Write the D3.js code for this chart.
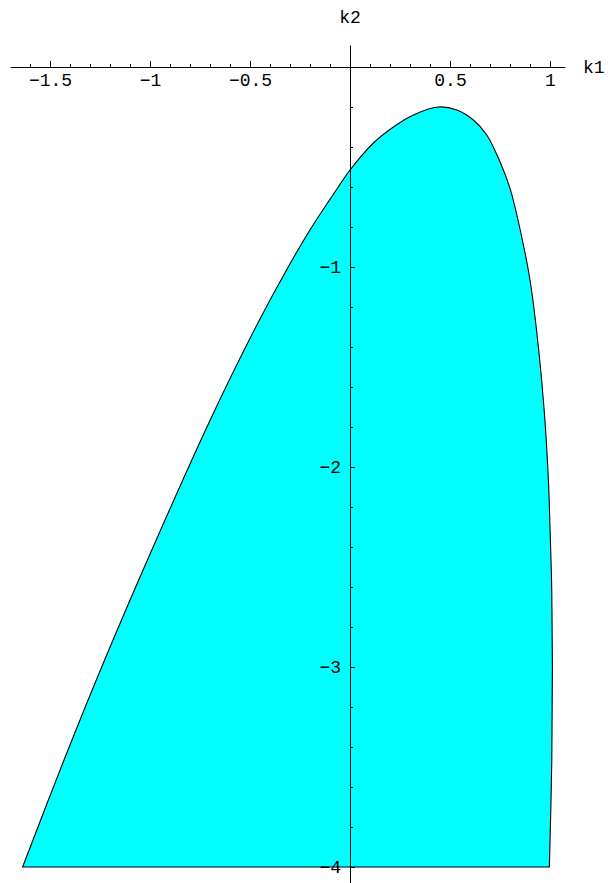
<!DOCTYPE html>
<html>
<head>
<meta charset="utf-8">
<script src="https://cdn.jsdelivr.net/npm/d3@7"></script>
<style>
  body { margin: 0; background: #fff; }
  svg text { font-family: "Liberation Mono", "DejaVu Sans Mono", monospace; }
</style>
</head>
<body>
<script>
// boundary of the shaded region, (k1, k2)
const boundaryK1 = [-1.637, -1.43, -1.227, -0.98, -0.699, -0.471, -0.309, -0.191, -0.05, 0, 0.117, 0.217, 0.317, 0.44, 0.534, 0.617, 0.684, 0.75, 0.80, 0.84, 0.90, 0.942, 0.972, 0.992, 1.0, 1.009, 1.012, 1.009, 0.997];
const boundaryK2 = [-4, -3.465, -2.965, -2.39, -1.765, -1.30, -1.0, -0.80, -0.587, -0.515, -0.38, -0.30, -0.24, -0.20, -0.215, -0.265, -0.34, -0.474, -0.607, -0.765, -1.065, -1.40, -1.73, -2.065, -2.30, -2.63, -3.0, -3.465, -4];

const xMajor = [-1.5, -1, -0.5, 0.5, 1];
const xLabels = ["\u22121.5", "\u22121", "\u22120.5", "0.5", "1"];
const xMinor = [-1.6, -1.4, -1.3, -1.2, -1.1, -0.9, -0.8, -0.7, -0.6, -0.4, -0.3, -0.2, -0.1, 0.1, 0.2, 0.3, 0.4, 0.6, 0.7, 0.8, 0.9];
const yMajor = [-1, -2, -3, -4];
const yLabels = ["\u22121", "\u22122", "\u22123", "\u22124"];
const yMinor = [-0.2, -0.4, -0.6, -0.8, -1.2, -1.4, -1.6, -1.8, -2.2, -2.4, -2.6, -2.8, -3.2, -3.4, -3.6, -3.8];

const W = 608, H = 883;

const x = d3.scaleLinear().domain([-1.7, 1.075]).range([10, 565]);
const y = d3.scaleLinear().domain([0.11, -4.08]).range([45, 883]);

const svg = d3.select("body").append("svg")
  .attr("width", W)
  .attr("height", H);

const pts = boundaryK1.map((k, i) => [k, boundaryK2[i]]);

const line = d3.line()
  .x(d => x(d[0]))
  .y(d => y(d[1]))
  .curve(d3.curveCatmullRom.alpha(0.5));

svg.append("path")
  .attr("d", line(pts) + "Z")
  .attr("fill", "#00ffff")
  .attr("stroke", "#000")
  .attr("stroke-width", 1.1)
  .attr("stroke-linejoin", "round");

// x axis: ticks point up, labels below
const xAxis = d3.axisBottom(x)
  .tickValues(xMajor)
  .tickFormat((d, i) => xLabels[i])
  .tickSizeInner(-6)
  .tickSizeOuter(0)
  .tickPadding(6);

svg.append("g")
  .attr("transform", `translate(0,${y(0)})`)
  .call(xAxis);

svg.append("g")
  .attr("transform", `translate(0,${y(0)})`)
  .call(d3.axisBottom(x).tickValues(xMinor).tickFormat("").tickSizeInner(-3).tickSizeOuter(0))
  .select(".domain").remove();

// y axis: ticks point right, labels left
const yAxis = d3.axisLeft(y)
  .tickValues(yMajor)
  .tickFormat((d, i) => yLabels[i])
  .tickSizeInner(-5)
  .tickSizeOuter(0)
  .tickPadding(9);

svg.append("g")
  .attr("transform", `translate(${x(0)},0)`)
  .call(yAxis);

svg.append("g")
  .attr("transform", `translate(${x(0)},0)`)
  .call(d3.axisLeft(y).tickValues(yMinor).tickFormat("").tickSizeInner(-3).tickSizeOuter(0))
  .select(".domain").remove();

svg.selectAll(".domain").attr("stroke", "#000").attr("stroke-width", 1);
svg.selectAll(".tick line").attr("stroke", "#000").attr("stroke-width", 1);
svg.selectAll(".tick text")
  .attr("font-family", "Liberation Mono, DejaVu Sans Mono, monospace")
  .attr("font-size", 18)
  .attr("fill", "#000");

svg.append("text")
  .attr("x", 583)
  .attr("y", y(0))
  .attr("dy", "0.32em")
  .attr("font-size", 18)
  .text("k1");

svg.append("text")
  .attr("x", x(0))
  .attr("y", 17)
  .attr("dy", "0.32em")
  .attr("text-anchor", "middle")
  .attr("font-size", 18)
  .text("k2");
</script>
</body>
</html>
